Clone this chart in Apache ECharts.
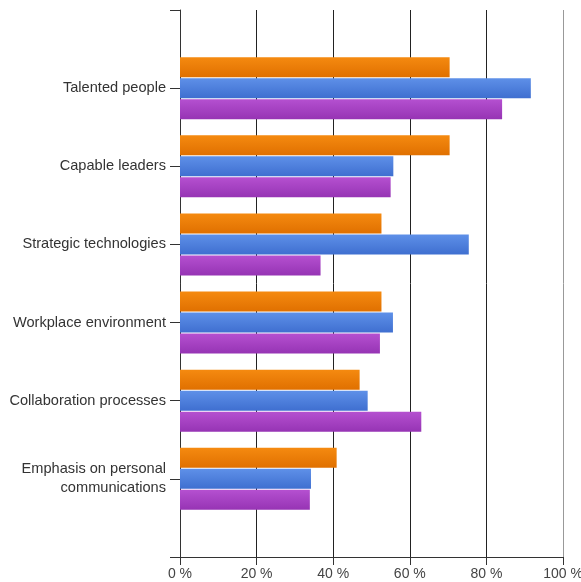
<!DOCTYPE html>
<html>
<head>
<meta charset="utf-8">
<script src="https://cdn.jsdelivr.net/npm/echarts@6/dist/echarts.min.js"></script>
<style>
  html, body { margin: 0; padding: 0; background: #fff; }
  #chart { width: 581px; height: 582px; }
</style>
</head>
<body>
<div id="chart"></div>
<script>
// empty first/last entries pad the axis so categories sit on ticks
var categories = ['', 'Talented people', 'Capable leaders', 'Strategic technologies',
  'Workplace environment', 'Collaboration processes', 'Emphasis on personal\ncommunications', ''];
var orangeValues = [null, 70.4, 70.4, 52.6, 52.6, 46.9, 40.9, null];
var blueValues = [null, 91.6, 55.7, 75.4, 55.6, 49, 34.2, null];
var purpleValues = [null, 84.1, 55, 36.7, 52.2, 63, 33.9, null];
var tickLabels = ['0 %', '20 %', '40 %', '60 %', '80 %', '100 %'];

function grad(top, bottom) {
  return new echarts.graphic.LinearGradient(0, 0, 0, 1, [
    { offset: 0, color: top },
    { offset: 1, color: bottom }
  ]);
}

var chart = echarts.init(document.getElementById('chart'));
var option = {
  animation: false,
  backgroundColor: '#fff',
  textStyle: { fontFamily: 'Liberation Sans, Arial, sans-serif' },
  grid: { left: 180, right: 18, top: 10, bottom: 25, containLabel: false, outerBoundsMode: 'none' },
  xAxis: {
    type: 'value',
    min: 0,
    max: 100,
    interval: 20,
    axisLine: { show: true, lineStyle: { color: '#333', width: 1 } },
    axisTick: { show: true, length: 8, lineStyle: { color: '#333' } },
    axisLabel: {
      margin: 10,
      fontSize: 14,
      color: '#444',
      formatter: function (v) { return tickLabels[Math.round(v / 20)]; }
    },
    splitLine: {
      show: true,
      lineStyle: { color: ['#333', '#222', '#222', '#222', '#222', '#999'], width: 1 }
    }
  },
  yAxis: {
    type: 'category',
    inverse: true,
    boundaryGap: false,
    data: categories,
    axisLine: { show: true, lineStyle: { color: '#333', width: 1 } },
    axisTick: { show: true, length: 10, lineStyle: { color: '#333' } },
    axisLabel: {
      margin: 14,
      fontSize: 14.6,
      color: '#333',
      lineHeight: 19,
      align: 'right'
    },
    splitLine: { show: false }
  },
  series: [
    {
      name: 'Series 1',
      type: 'bar',
      data: orangeValues,
      barWidth: 20,
      barGap: '5%',
      itemStyle: { color: grad('#f58a10', '#e07000') }
    },
    {
      name: 'Series 2',
      type: 'bar',
      data: blueValues,
      barWidth: 20,
      barGap: '5%',
      itemStyle: { color: grad('#5e90e8', '#3f6fd0') }
    },
    {
      name: 'Series 3',
      type: 'bar',
      data: purpleValues,
      barWidth: 20,
      barGap: '5%',
      itemStyle: { color: grad('#b550d0', '#9634b4') }
    }
  ]
};
chart.setOption(option);
</script>
</body>
</html>
